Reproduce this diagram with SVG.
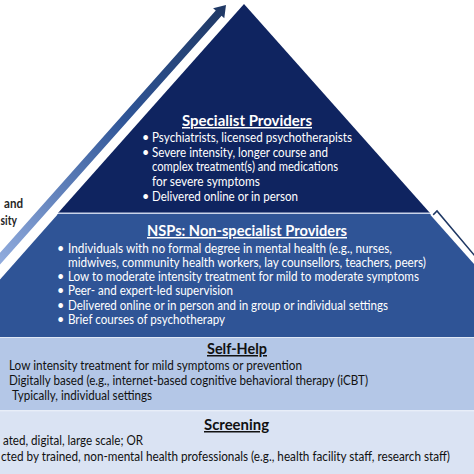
<svg xmlns="http://www.w3.org/2000/svg" width="474" height="474" viewBox="0 0 474 474">
  <defs>
    <linearGradient id="arrowGrad" gradientUnits="userSpaceOnUse" x1="0" y1="0" x2="-340" y2="0">
      <stop offset="0" stop-color="#1f3864"/>
      <stop offset="0.45" stop-color="#2f5597"/>
      <stop offset="1" stop-color="#8faadc"/>
    </linearGradient>
    <style>
      .t { font-family: Lato, "Liberation Sans", sans-serif; font-size: 12.5px; }
      .w { fill: #ffffff; }
      .k { fill: #111111; }
      .h { font-family: Lato, "Liberation Sans", sans-serif; font-size: 15px; font-weight: bold; text-decoration: underline; text-anchor: middle; }
      .side { font-family: Lato, "Liberation Sans", sans-serif; font-size: 13.5px; font-weight: bold; fill: #262626; }
    </style>
  </defs>
  <rect x="0" y="0" width="474" height="474" fill="#ffffff"/>

  <g id="connectors">
    <g id="left-arrow" transform="translate(226,5) rotate(-48.3)">
      <polygon points="0,0 -11,7.5 -11,3.9 -420,3.9 -420,-3.9 -11,-3.9 -11,-7.5" fill="url(#arrowGrad)"/>
    </g>
    <polygon id="right-arrow" points="432,216 437,211 480,262 474,268" fill="#ffffff" stroke="#1f3864" stroke-width="1.6"/>
  </g>

  <g id="screening">
    <rect x="0" y="411" width="474" height="63" fill="#dae3f3"/>
    <text class="h k" x="236.5" y="430" textLength="65" lengthAdjust="spacingAndGlyphs">Screening</text>
    <text class="t k" x="3" y="445" textLength="140" lengthAdjust="spacingAndGlyphs">ated, digital, large scale; OR</text>
    <text class="t k" x="1" y="461" textLength="449" lengthAdjust="spacingAndGlyphs">cted by trained, non-mental health professionals (e.g., health facility staff, research staff)</text>
  </g>

  <g id="self-help">
    <rect x="0" y="338" width="474" height="72.5" fill="#b4c7e7"/>
    <text class="h k" x="237" y="354" textLength="60" lengthAdjust="spacingAndGlyphs">Self-Help</text>
    <text class="t k" x="9" y="370" textLength="293" lengthAdjust="spacingAndGlyphs">Low intensity treatment for mild symptoms or prevention</text>
    <text class="t k" x="9" y="385" textLength="359" lengthAdjust="spacingAndGlyphs">Digitally based (e.g., internet-based cognitive behavioral therapy (iCBT)</text>
    <text class="t k" x="12" y="400" textLength="140" lengthAdjust="spacingAndGlyphs">Typically, individual settings</text>
  </g>

  <g id="nsp">
    <polygon points="57,214 431,214 540,337 -52,337" fill="#2f5496"/>
    <line x1="431" y1="214" x2="540" y2="337" stroke="#ffffff" stroke-width="2"/>
    <line x1="57" y1="214" x2="-52" y2="337" stroke="#ffffff" stroke-width="1.5"/>
    <text class="h w" x="247" y="236" textLength="200" lengthAdjust="spacingAndGlyphs">NSPs: Non-specialist Providers</text>
    <text class="t w" x="57" y="253">•</text>
    <text class="t w" x="57" y="281">•</text>
    <text class="t w" x="57" y="295">•</text>
    <text class="t w" x="57" y="310">•</text>
    <text class="t w" x="57" y="324">•</text>
    <text class="t w" x="68" y="253" textLength="324" lengthAdjust="spacingAndGlyphs">Individuals with no formal degree in mental health (e.g., nurses,</text>
    <text class="t w" x="68" y="267" textLength="358" lengthAdjust="spacingAndGlyphs">midwives, community health workers, lay counsellors, teachers, peers)</text>
    <text class="t w" x="68" y="281" textLength="351" lengthAdjust="spacingAndGlyphs">Low to moderate intensity treatment for mild to moderate symptoms</text>
    <text class="t w" x="68" y="295" textLength="165" lengthAdjust="spacingAndGlyphs">Peer- and expert-led supervision</text>
    <text class="t w" x="68" y="310" textLength="320" lengthAdjust="spacingAndGlyphs">Delivered online or in person and in group or individual settings</text>
    <text class="t w" x="68" y="324" textLength="157" lengthAdjust="spacingAndGlyphs">Brief courses of psychotherapy</text>
  </g>

  <line x1="0" y1="337.5" x2="474" y2="337.5" stroke="#dfe7f5" stroke-width="1"/>
  <line x1="0" y1="410.8" x2="474" y2="410.8" stroke="#eef2fa" stroke-width="1"/>

  <g id="specialist">
    <polygon points="244,4 58,213 430,213" fill="#0f2460"/>
    <line x1="58" y1="213.3" x2="430" y2="213.3" stroke="#c9d4ea" stroke-width="1.4"/>
    <text class="h w" x="247" y="126" textLength="130" lengthAdjust="spacingAndGlyphs">Specialist Providers</text>
    <text class="t w" x="142" y="141.5">•</text>
    <text class="t w" x="142" y="156.5">•</text>
    <text class="t w" x="142" y="201">•</text>
    <text class="t w" x="152" y="141.5" textLength="200" lengthAdjust="spacingAndGlyphs">Psychiatrists, licensed psychotherapists</text>
    <text class="t w" x="152" y="156.5" textLength="176" lengthAdjust="spacingAndGlyphs">Severe intensity, longer course and</text>
    <text class="t w" x="152" y="171" textLength="186" lengthAdjust="spacingAndGlyphs">complex treatment(s) and medications</text>
    <text class="t w" x="152" y="186" textLength="108" lengthAdjust="spacingAndGlyphs">for severe symptoms</text>
    <text class="t w" x="152" y="201" textLength="146" lengthAdjust="spacingAndGlyphs">Delivered online or in person</text>
  </g>

  <g id="side-label">
    <text class="side" x="4" y="208" textLength="19" lengthAdjust="spacingAndGlyphs">and</text>
    <text class="side" x="0.5" y="225" textLength="16.5" lengthAdjust="spacingAndGlyphs">sity</text>
  </g>
</svg>
